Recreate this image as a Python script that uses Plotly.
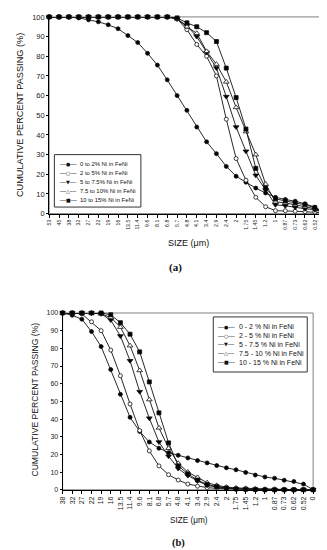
import plotly.graph_objects as go

W, H = 327, 550

# ---------------- data ----------------
sizes_a = ["53", "45", "38", "32", "27", "22", "19", "16", "13.5", "11.4", "9.6", "8.1", "6.8", "5.7",
           "4.8", "4.1", "3.4", "2.9", "2.4", "2", "1.75", "1.45", "1.2", "1", "0.87", "0.73", "0.62", "0.52", "0"]
sizes_b = ["38", "32", "27", "22", "19", "16", "13.5", "11.4", "9.6", "8.1", "6.8", "5.7",
           "4.8", "4.1", "3.4", "2.9", "2.4", "2", "1.75", "1.45", "1.2", "1", "0.87", "0.73", "0.62", "0.52", "0"]

names_a = ["0 to 2% Ni in FeNi", "2 to 5% Ni in FeNi", "5 to 7.5% Ni in FeNi",
           "7.5 to 10% Ni in FeNi", "10 to 15% Ni in FeNi"]
names_b = ["0 - 2 % Ni in FeNi", "2 - 5 % Ni in FeNi", "5 - 7.5 % Ni in FeNi",
           "7.5 - 10 % Ni in FeNi", "10 - 15 % Ni in FeNi"]

a_ni_0_2 = [100, 100, 100, 99.5, 98.5, 97.5, 96, 94, 90.5, 87, 81.5, 75.5, 68, 60, 52.5, 44, 36.5,
            30.5, 24, 19, 16, 13, 10.5, 8.3, 7.2, 6.3, 5, 3.3, 0.5]
a_ni_2_5 = [100, 100, 100, 100, 100, 100, 100, 100, 100, 100, 100, 100, 100, 99, 93.5, 86, 80,
            70, 48, 28, 17, 8.3, 3.5, 1.5, 1.5, 1.2, 1, 0.8, 0.3]
a_ni_5_75 = [100, 100, 100, 100, 100, 100, 100, 100, 100, 100, 100, 100, 100, 99, 95.5, 90, 82,
             74, 59.5, 44, 31.7, 19.5, 12, 4.5, 4, 3.2, 2.5, 2, 0.3]
a_ni_75_10 = [100, 100, 100, 100, 100, 100, 100, 100, 100, 100, 100, 100, 100, 99, 95, 91.7, 82.5,
              76, 67, 54, 41.7, 30, 15, 6, 5.5, 4.5, 3.5, 2.5, 0.3]
a_ni_10_15 = [100, 100, 100, 100, 100, 100, 100, 100, 100, 100, 100, 100, 100, 99.5, 97, 95, 92,
              87.5, 74, 59, 43, 23, 13, 7.5, 6.5, 5.5, 4.5, 3, 0.3]

b_ni_0_2 = [100, 98.7, 96.5, 89.5, 81, 68, 54, 41, 33, 27, 23.5, 21, 19.5, 18, 16.5, 15.2, 13.7,
            12.4, 11.3, 9.8, 8.3, 7.2, 6.5, 5.4, 4.7, 3.2, 0]
b_ni_2_5 = [100, 100, 99.5, 95, 90, 79, 64.5, 48.5, 33.5, 22, 13.5, 8.5, 5.5, 3.2, 2, 1.2, 0.8,
            0.5, 0.3, 0.2, 0, 0, 0, 0, 0, 0, 0]
b_ni_5_75 = [100, 100, 100, 100, 99.5, 96, 87, 73, 55.5, 40.5, 27, 19, 12, 8, 5, 2.5, 1.5, 0.8,
             0.5, 0.3, 0.2, 0, 0, 0, 0, 0, 0]
b_ni_75_10 = [100, 100, 100, 100, 99.5, 97.5, 92, 81.5, 67.5, 51, 35, 23.5, 15, 10, 7, 4, 2.5,
              1.5, 1, 0.8, 0.5, 0.3, 0.3, 0.2, 0, 0, 0]
b_ni_10_15 = [100, 100, 100, 100, 100, 99, 94.5, 88, 78, 61, 43.5, 26.5, 13.5, 9, 5.5, 3, 1.8,
              1, 0.5, 0.3, 0.2, 0, 0, 0, 0, 0, 0]

series_a = [a_ni_0_2, a_ni_2_5, a_ni_5_75, a_ni_75_10, a_ni_10_15]
series_b = [b_ni_0_2, b_ni_2_5, b_ni_5_75, b_ni_75_10, b_ni_10_15]

# ---------------- styles ----------------
marker_styles = [
    dict(symbol="circle", color="black", size=4),
    dict(symbol="circle", color="white", size=4),
    dict(symbol="triangle-down", color="black", size=5),
    dict(symbol="triangle-up", color="white", size=5),
    dict(symbol="square", color="black", size=4),
]
swatch_glyphs = ["●", "○", "▼", "△", "■"]


def px(x):
    return x / W


def py(y):
    return 1 - y / H


fig = go.Figure()

for xa, ya, cats, data, names in [("x", "y", sizes_a, series_a, names_a),
                                   ("x2", "y2", sizes_b, series_b, names_b)]:
    for vals, name, st in zip(data, names, marker_styles):
        fig.add_trace(go.Scatter(
            x=cats, y=vals, name=name, xaxis=xa, yaxis=ya,
            mode="lines+markers", showlegend=False, cliponaxis=False,
            line=dict(color="#111111", width=0.9),
            marker=dict(symbol=st["symbol"], color=st["color"], size=st["size"],
                        line=dict(color="#111111", width=0.8)),
        ))

FONT = "Liberation Sans, Arial, sans-serif"

common_x = dict(type="category", showline=True, linecolor="black", linewidth=1,
                ticks="outside", ticklen=3, tickcolor="black", tickangle=-90,
                showgrid=False, zeroline=False)
common_y = dict(range=[0, 100], dtick=10, showline=True, linecolor="black", linewidth=1,
                ticks="outside", ticklen=2, tickcolor="black", showgrid=False, zeroline=False)

fig.update_layout(
    width=W, height=H, margin=dict(l=0, r=0, t=0, b=0),
    paper_bgcolor="white", plot_bgcolor="white",
    font=dict(family=FONT, color="#222222"),
    xaxis=dict(common_x, domain=[px(38), px(319.5)], anchor="y",
               categoryorder="array", categoryarray=sizes_a, range=[0, len(sizes_a) - 1],
               tickfont=dict(size=5.2, family=FONT)),
    yaxis=dict(common_y, domain=[py(205), py(5)], anchor="x",
               tickfont=dict(size=7.5, family=FONT)),
    xaxis2=dict(common_x, domain=[px(51.7), px(307.7)], anchor="y2",
                categoryorder="array", categoryarray=sizes_b, range=[0, len(sizes_b) - 1],
                tickfont=dict(size=7, family=FONT)),
    yaxis2=dict(common_y, domain=[py(485.7), py(306)], anchor="x2",
                tickfont=dict(size=7, family=FONT)),
)

shapes = []
for xr, yr in [("x domain", "y domain"), ("x2 domain", "y2 domain")]:
    shapes.append(dict(type="rect", xref=xr, yref=yr, x0=0, x1=1, y0=0, y1=1,
                       line=dict(color="#808080", width=1), layer="below"))

annotations = []


def text(x, y, s, size, angle=0, family=FONT, bold=False, xanchor="center"):
    annotations.append(dict(
        x=px(x), y=py(y), xref="paper", yref="paper", text=f"<b>{s}</b>" if bold else s,
        showarrow=False, textangle=angle, xanchor=xanchor, yanchor="middle",
        font=dict(size=size, family=family, color="#111111")))


text(8, 105, "CUMULATIVE PERCENT PASSING (%)", 9.2, angle=-90)
text(180, 235, "SIZE (μm)", 9)
text(167, 260, "(a)", 11, family="Liberation Serif, Times New Roman, serif", bold=True)

text(23.5, 394, "CUMULATIVE PERCENT PASSING (%)", 8.6, angle=-90)
text(181, 517, "SIZE (μm)", 8.2)
text(170, 540, "(b)", 10.5, family="Liberation Serif, Times New Roman, serif", bold=True)

# legends (box + swatch + label)
for (bx0, by0, bx1, by1), row0, sw_x, tx_x, names, fsz in [
        ((43.3, 145, 131.7, 198.3), 155, 57.5, 67, names_a, 5.9),
        ((205.7, 310, 301.7, 366), 320, 219, 230, names_b, 7)]:
    shapes.append(dict(type="rect", xref="paper", yref="paper",
                       x0=px(bx0), x1=px(bx1), y0=py(by1), y1=py(by0),
                       line=dict(color="#333333", width=1), fillcolor="white", layer="above"))
    for k, (name, g) in enumerate(zip(names, swatch_glyphs)):
        yy = row0 + 9 * k
        annotations.append(dict(
            x=px(sw_x), y=py(yy), xref="paper", yref="paper", text="──" + g + "──",
            showarrow=False, xanchor="center", yanchor="middle",
            font=dict(size=5, family="DejaVu Sans", color="#111111")))
        annotations.append(dict(
            x=px(tx_x), y=py(yy), xref="paper", yref="paper", text=name,
            showarrow=False, xanchor="left", yanchor="middle",
            font=dict(size=fsz, family=FONT, color="#111111")))

fig.update_layout(shapes=shapes, annotations=annotations)

fig.write_html("out.html")
